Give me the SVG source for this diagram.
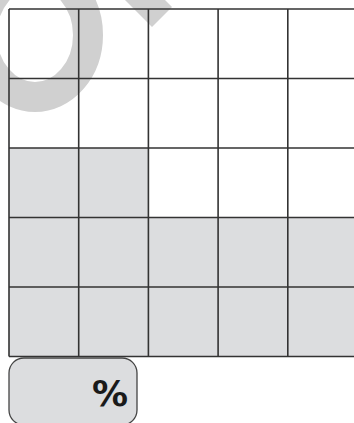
<svg xmlns="http://www.w3.org/2000/svg" width="354" height="423" viewBox="0 0 354 423">
  <style>
    .shade { fill: #dcdddf; }
    .grid { stroke: #333333; stroke-width: 1.6; fill: none; }
    .mark { fill: none; stroke: #d0d0d0; stroke-width: 30; }
    .box { fill: #dcdddf; stroke: #444; stroke-width: 1.3; }
    .pct { font-family: "DejaVu Sans", "Liberation Sans", sans-serif; font-size: 36px; font-weight: 600; fill: #1a1a1a; text-anchor: middle; }
  </style>
  <rect width="354" height="423" fill="#ffffff"/>
  <g id="shaded-cells">
    <rect class="shade" x="9" y="148" width="139.4" height="69.5"/>
    <rect class="shade" x="9" y="217.5" width="348" height="139"/>
  </g>
  <g id="watermark">
    <ellipse class="mark" cx="35" cy="35" rx="53" ry="62"/>
    <polygon points="125,0 152,27 172,7 165,0" fill="#d0d0d0"/>
  </g>
  <g id="grid">
    <path class="grid" d="M9 9H356M9 78.5H356M9 148H356M9 217.5H356M9 287H356M9 356.5H356"/>
    <path class="grid" d="M9 9V356.5M78.7 9V356.5M148.4 9V356.5M218.1 9V356.5M287.8 9V356.5"/>
  </g>
  <g id="percent-box">
    <rect class="box" x="9" y="358" width="128" height="67" rx="15" ry="15"/>
    <text class="pct" x="110" y="406">%</text>
  </g>
</svg>
